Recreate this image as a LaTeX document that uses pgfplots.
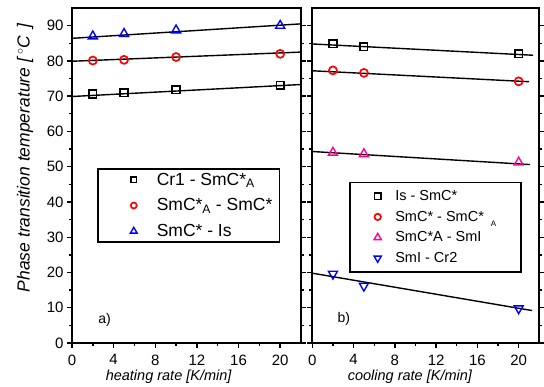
\documentclass[border=0pt]{standalone}
\usepackage{pgfplots}
\pgfplotsset{compat=1.18}
\usepackage{fontspec}
\setmainfont{Liberation Sans}
\definecolor{mag}{RGB}{255,0,150}
\begin{document}
\begin{tikzpicture}
\pgfplotsset{
 panel/.style={
  scale only axis, height=335pt,
  xmin=0, xmax=22, ymin=0, ymax=95,
  xtick={0,4,...,20}, minor xtick={2,6,...,18},
  ytick={0,10,...,90}, minor ytick={5,15,...,85},
  tick align=outside, xtick pos=lower, ytick pos=both,
  major tick length=5pt, minor tick length=3pt,
  every tick/.style={black, line width=1.4pt},
  axis line style={line width=2pt},
  tick label style={font=\fontsize{15}{18}\selectfont},
  xticklabel style={yshift=-3pt},
  /pgf/number format/assume math mode=true,
  label style={font=\fontsize{14.5}{17}\selectfont\itshape},
  legend cell align=left,
 },
 limgL/.style={legend image code/.code={\path[draw=none,fill=none] (0pt,-3pt) rectangle (52pt,3pt); \draw[every mark/.append style={scale=0.75}] plot coordinates {(30pt,0pt)};}},
 fit/.style={black, line width=1.4pt, no marks, forget plot},
 sq/.style={only marks, mark=square, mark size=3.8pt, line width=1.6pt, black},
 ci/.style={only marks, mark=o, mark size=4pt, line width=1.7pt, red},
 tu/.style={only marks, mark=triangle, mark size=5.2pt, line width=1.4pt},
 td/.style={only marks, mark=triangle, mark size=5.2pt, line width=1.4pt, mark options={rotate=180}},
}
\begin{axis}[panel, width=229pt, at={(0pt,0pt)}, anchor=south west,
  xlabel={heating rate [K/min]}, ylabel={Phase transition temperature [\,$^{\circ}$C\, ]},
  xlabel style={at={(axis description cs:0.422,-0.1)}, anchor=center},
  ylabel style={at={(axis description cs:-0.205,0.553)}, anchor=center, font=\fontsize{17.5}{20}\selectfont\itshape},
  legend style={at={(axis description cs:0.109,0.522)}, anchor=north west, draw=black, line width=1.6pt,
    font=\fontsize{17.5}{20}\selectfont, inner xsep=6pt, inner ysep=3pt, row sep=10pt,
    nodes={inner sep=1pt}},
]
\addplot[sq, limgL] coordinates {(2,70.6) (5,71.0) (10,71.8) (20,73.1)};
\addlegendentry{Cr1 - SmC*\textsubscript{A}}
\addplot[ci, limgL] coordinates {(2,80.1) (5,80.3) (10,81.1) (20,82.0)};
\addlegendentry{SmC*\textsubscript{A} - SmC*}
\addplot[tu, blue, limgL] coordinates {(2,87.0) (5,87.7) (10,88.7) (20,90.0)};
\addlegendentry{SmC* - Is}
\addplot[fit] coordinates {(0,69.9) (22,73.3)};
\addplot[fit] coordinates {(0,79.9) (22,82.5)};
\addplot[fit] coordinates {(0,86.4) (22,90.5)};
\node[anchor=west, font=\fontsize{14}{16}\selectfont] at (axis cs:2.2,6.5) {a)};
\end{axis}
\begin{axis}[panel, width=227pt, at={(240.3pt,0pt)}, anchor=south west,
  yticklabels={},
  xlabel={cooling rate [K/min]},
  xlabel style={at={(axis description cs:0.43,-0.1)}, anchor=center},
  legend style={at={(axis description cs:0.163,0.4815)}, anchor=north west, draw=black, line width=1.6pt,
    font=\fontsize{14.5}{17}\selectfont, inner xsep=24pt, inner ysep=7pt, row sep=7pt,
    nodes={inner sep=1pt}},
  legend image post style={every mark/.append style={scale=0.8}},
]
\addplot[sq] coordinates {(2,84.9) (5,84.0) (20,82.0)};
\addlegendentry{\hspace{13pt}Is - SmC*\hspace{-15pt}}
\addplot[ci] coordinates {(2,77.3) (5,76.6) (20,74.2)};
\addlegendentry{\hspace{13pt}SmC* - SmC*\hspace{7pt}\raisebox{-5.5pt}{\fontsize{8}{9}\selectfont A}\hspace{-15pt}}
\addplot[tu, mag] coordinates {(2,54.0) (5,53.6) (20,51.2)};
\addlegendentry{\hspace{13pt}SmC*A - SmI\hspace{-15pt}}
\addplot[td, blue] coordinates {(2,19.6) (5,16.2) (20,9.8)};
\addlegendentry{\hspace{13pt}SmI - Cr2\hspace{-15pt}}
\addplot[fit] coordinates {(0,84.8) (21.4,81.6)};
\addplot[fit] coordinates {(0,77.2) (21,74.1)};
\addplot[fit] coordinates {(0,54.3) (21.1,50.6)};
\addplot[fit] coordinates {(0,19.8) (21.3,9.2)};
\node[anchor=west, font=\fontsize{14}{16}\selectfont] at (axis cs:2.1,6.7) {b)};
\end{axis}
\pgfresetboundingbox
\path (-72pt,-44pt) rectangle (472pt,343pt);
\end{tikzpicture}
\end{document}
